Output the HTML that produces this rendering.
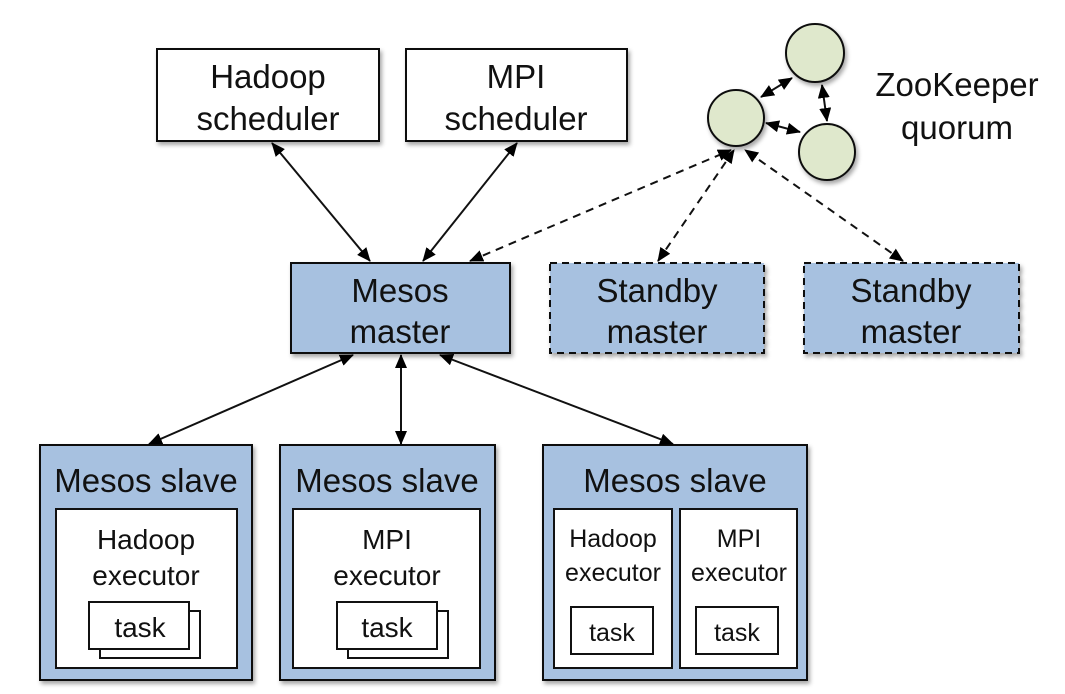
<!DOCTYPE html>
<html><head><meta charset="utf-8"><style>body{margin:0;background:#fff}svg{display:block}text{font-family:"Liberation Sans",sans-serif;fill:#111;text-anchor:middle}</style></head><body>
<svg width="1065" height="694" viewBox="0 0 1065 694" xmlns="http://www.w3.org/2000/svg">
<defs>
<marker id="a" markerWidth="14" markerHeight="12" refX="13" refY="6" orient="auto-start-reverse" markerUnits="userSpaceOnUse"><path d="M0,0 L14,6 L0,12 z" fill="#000"/></marker>
<filter id="s" x="-10%" y="-10%" width="130%" height="130%"><feDropShadow dx="2" dy="3" stdDeviation="2" flood-opacity="0.35"/></filter>
</defs>
<g stroke="#111" stroke-width="2">
<rect x="157" y="49" width="222" height="92" fill="#fff" filter="url(#s)"/>
<rect x="406" y="49" width="221" height="92" fill="#fff" filter="url(#s)"/>
<rect x="291" y="263" width="219" height="90" fill="#a7c1e0" filter="url(#s)"/>
<rect x="550" y="263" width="214" height="90" fill="#a7c1e0" stroke-dasharray="7,5" filter="url(#s)"/>
<rect x="804" y="263" width="215" height="90" fill="#a7c1e0" stroke-dasharray="7,5" filter="url(#s)"/>
<circle cx="815" cy="53" r="29" fill="#dfe8cc" filter="url(#s)"/>
<circle cx="736" cy="118" r="28" fill="#dfe8cc" filter="url(#s)"/>
<circle cx="827" cy="152" r="28" fill="#dfe8cc" filter="url(#s)"/>
<rect x="40" y="445" width="212" height="235" fill="#a7c1e0" filter="url(#s)"/>
<rect x="280" y="445" width="215" height="235" fill="#a7c1e0" filter="url(#s)"/>
<rect x="543" y="445" width="264" height="235" fill="#a7c1e0" filter="url(#s)"/>
<rect x="56" y="509" width="181" height="159" fill="#fff"/>
<rect x="293" y="509" width="187" height="159" fill="#fff"/>
<rect x="554" y="509" width="118" height="159" fill="#fff"/>
<rect x="680" y="509" width="117" height="159" fill="#fff"/>
<rect x="100" y="611" width="100" height="47" fill="#fff"/>
<rect x="89" y="602" width="100" height="47" fill="#fff"/>
<rect x="348" y="611" width="100" height="47" fill="#fff"/>
<rect x="337" y="602" width="100" height="47" fill="#fff"/>
<rect x="571" y="607" width="82" height="47" fill="#fff"/>
<rect x="696" y="607" width="82" height="47" fill="#fff"/>
</g>
<g stroke="#111" stroke-width="2" fill="none" marker-start="url(#a)" marker-end="url(#a)">
<line x1="272" y1="143" x2="370" y2="261"/>
<line x1="517" y1="143" x2="423" y2="261"/>
<line x1="353" y1="355" x2="149" y2="444"/>
<line x1="401" y1="355" x2="401" y2="444"/>
<line x1="440" y1="355" x2="673" y2="444"/>
<line x1="761" y1="97" x2="792" y2="78"/>
<line x1="822" y1="85" x2="827" y2="121"/>
<line x1="766" y1="123" x2="800" y2="132"/>
<g stroke-dasharray="8,6">
<line x1="470" y1="261" x2="731" y2="150"/>
<line x1="658" y1="261" x2="734" y2="150"/>
<line x1="903" y1="261" x2="745" y2="150"/>
</g>
</g>
<g font-size="33">
<text x="268" y="88">Hadoop</text><text x="268" y="130">scheduler</text>
<text x="516" y="88">MPI</text><text x="516" y="130">scheduler</text>
<text x="400" y="302">Mesos</text><text x="400" y="343">master</text>
<text x="657" y="302">Standby</text><text x="657" y="343">master</text>
<text x="911" y="302">Standby</text><text x="911" y="343">master</text>
<text x="957" y="96">ZooKeeper</text><text x="957" y="139">quorum</text>
<text x="146" y="492">Mesos slave</text>
<text x="387" y="492">Mesos slave</text>
<text x="675" y="492">Mesos slave</text>
</g>
<g font-size="28">
<text x="146" y="549">Hadoop</text><text x="146" y="585">executor</text>
<text x="387" y="549">MPI</text><text x="387" y="585">executor</text>
<text x="140" y="637">task</text><text x="387" y="637">task</text>
</g>
<g font-size="25">
<text x="613" y="547">Hadoop</text><text x="613" y="581">executor</text>
<text x="739" y="547">MPI</text><text x="739" y="581">executor</text>
<text x="612" y="641">task</text><text x="737" y="641">task</text>
</g>
</svg>
</body></html>
